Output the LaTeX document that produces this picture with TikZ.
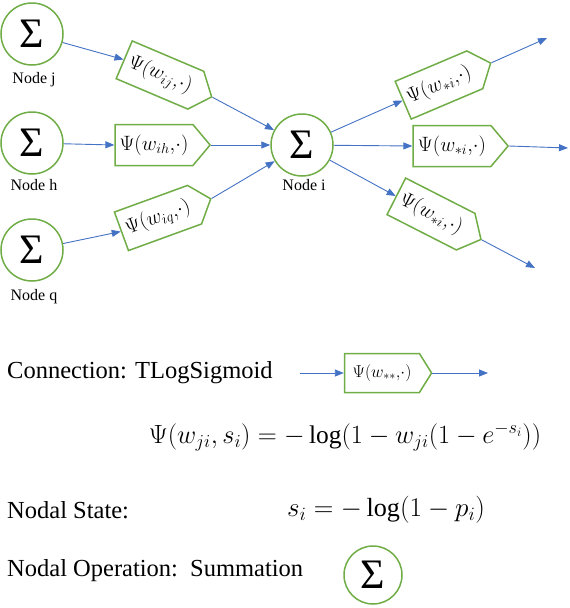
\documentclass[tikz,border=0pt]{standalone}
\usepackage{graphicx}
\usepackage{fontspec}
\setmainfont{Liberation Serif}
\usetikzlibrary{shapes.symbols,arrows.meta}
\definecolor{lblue}{HTML}{4472C4}
\definecolor{lgreen}{HTML}{70AD47}
\begin{document}
\begin{tikzpicture}[x=1pt,y=-1pt,
  sumnode/.style={circle,draw=lgreen,line width=1.5pt,minimum size=62pt,inner sep=0pt,font=\fontsize{42}{42}\selectfont},
  psibox/.style={signal,signal to=east,signal pointer angle=100,draw=lgreen,line width=1.5pt,minimum width=95pt,minimum height=41pt,inner sep=1pt,font=\fontsize{21}{23}\selectfont},
  conn/.style={draw=lblue,line width=0.9pt,-{Triangle[length=9pt,width=7pt]}},
  nodelabel/.style={font=\fontsize{16}{18}\selectfont,inner sep=0pt},
  bigtext/.style={font=\fontsize{24.5}{29}\selectfont,anchor=west,inner sep=0pt},
  mathtext/.style={font=\fontsize{24}{28}\selectfont,inner sep=0pt}]
\useasboundingbox (0,0) rectangle (570,608);
% input nodes
\node[sumnode] (j) at (32,34) {Σ};
\node[nodelabel] (lj) at (34,80) {Node j};
\node[sumnode] (h) at (32,143) {Σ};
\node[nodelabel] (lh) at (34,185) {Node h};
\node[sumnode] (q) at (32,250) {Σ};
\node[nodelabel] (lq) at (34,297) {Node q};
\node[sumnode] (i) at (302,145) {Σ};
\node[nodelabel] (li) at (304,185) {Node i};
% connection boxes
\node[psibox,rotate=-23] (bj) at (160,75) {$\Psi(w_{ij}{,}\cdot)$};
\node[psibox] (bh) at (154,145) {$\Psi(w_{ih}{,}\cdot)$};
\node[psibox,rotate=20] (bq) at (158,218) {$\Psi(w_{iq}{,}\cdot)$};
\node[psibox,rotate=23] (o1) at (439,85) {$\Psi(w_{*i}{,}\cdot)$};
\node[psibox] (o2) at (452,146) {$\Psi(w_{*i}{,}\cdot)$};
\node[psibox,rotate=-27] (o3) at (431,214) {$\Psi(w_{*i}{,}\cdot)$};
\coordinate (e1) at (547,38);
\coordinate (e2) at (568,148);
\coordinate (e3) at (535,268);
\draw[conn] (j) -- (bj.west);
\draw[conn] (bj.east) -- (i);
\draw[conn] (h) -- (bh.west);
\draw[conn] (bh.east) -- (i);
\draw[conn] (q) -- (bq.west);
\draw[conn] (bq.east) -- (i);
\draw[conn] (i) -- (o1.west);
\draw[conn] (o1.east) -- (e1);
\draw[conn] (i) -- (o2.west);
\draw[conn] (o2.east) -- (e2);
\draw[conn] (i) -- (o3.west);
\draw[conn] (o3.east) -- (e3);
% legend
\node[bigtext] (cn) at (7,373) {Connection: TLogSigmoid};
\node[psibox,minimum width=87pt,minimum height=39pt,signal pointer angle=116,font=\fontsize{18}{20}\selectfont] (lb) at (382,373) {$\Psi(w_{**}{,}\cdot)$};
\coordinate (ls) at (300,373);
\coordinate (le) at (488,373);
\draw[conn] (ls) -- (lb.west);
\draw[conn] (lb.east) -- (le);
\node[mathtext] (f1) at (345,437) {\scalebox{1.06}{$\Psi\bigl(w_{ji},s_i\bigr) = -\log(1-w_{ji}(1-e^{-s_i}))$}};
\node[bigtext] (ns) at (7,510) {Nodal State:};
\node[mathtext] (f2) at (386,510) {\scalebox{1.09}{$s_i = -\log(1-p_i)$}};
\node[bigtext] (no) at (7,571) {Nodal Operation:\ \ Summation};
\node[sumnode,minimum size=58pt] (ps) at (373,575) {Σ};
\end{tikzpicture}
\end{document}
